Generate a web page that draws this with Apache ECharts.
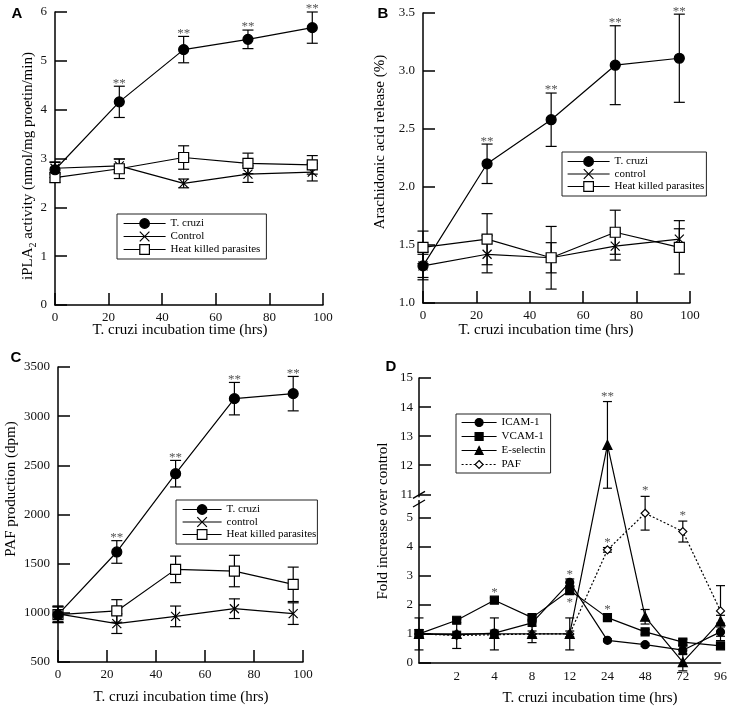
<!DOCTYPE html>
<html><head><meta charset="utf-8">
<script src="https://cdn.jsdelivr.net/npm/echarts@6/dist/echarts.min.js"></script>
<style>html,body{margin:0;padding:0;background:#fff}#c{width:730px;height:706px}</style>
</head><body><div id="c"></div><script>
// ---------- DATA ----------
const timesABC = [0, 24, 48, 72, 96];
// Panel A: iPLA2 activity
const aTcruzi = [2.77, 4.16, 5.23, 5.44, 5.68];
const aTcruziErr = [0.16, 0.32, 0.27, 0.19, 0.32];
const aControl = [2.80, 2.85, 2.49, 2.68, 2.72];
const aControlErr = [0.12, 0.14, 0.09, 0.17, 0.18];
const aHeat = [2.61, 2.79, 3.02, 2.90, 2.87];
const aHeatErr = [0.10, 0.20, 0.24, 0.21, 0.19];
// Panel B: arachidonic acid release
const bTcruzi = [1.32, 2.20, 2.58, 3.05, 3.11];
const bTcruziErr = [0.12, 0.17, 0.23, 0.34, 0.38];
const bControl = [1.32, 1.42, 1.39, 1.49, 1.55];
const bControlErr = [0.10, 0.16, 0.13, 0.12, 0.09];
const bHeat = [1.48, 1.55, 1.39, 1.61, 1.48];
const bHeatErr = [0.14, 0.22, 0.27, 0.19, 0.23];
// Panel C: PAF production
const cTcruzi = [981, 1619, 2415, 3178, 3229];
const cTcruziErr = [80, 115, 135, 165, 175];
const cControl = [990, 890, 964, 1042, 992];
const cControlErr = [80, 100, 105, 100, 110];
const cHeat = [981, 1019, 1442, 1425, 1290];
const cHeatErr = [80, 115, 135, 160, 175];
const starsABC = ['', '**', '**', '**', '**'];
// Panel D: fold increase over control
const dTimes = ['0', '2', '4', '8', '12', '24', '48', '72', '96'];
const dIcam = [1.0, 0.97, 1.03, 1.38, 2.77, 0.78, 0.63, 0.44, 1.07];
const dIcamErr = [0.15, 0.12, 0.10, 0.12, 0.12, 0.05, 0.05, 0.15, 0.30];
const dVcam = [1.0, 1.47, 2.16, 1.56, 2.50, 1.56, 1.07, 0.72, 0.59];
const dVcamErr = [0.15, 0.08, 0.08, 0.10, 0.15, 0.08, 0.08, 0.10, 0.10];
const dEsel = [1.0, 1.0, 1.0, 1.0, 1.0, 12.7, 1.59, 0.03, 1.44];
const dEselErr = [0.55, 0.50, 0.55, 0.30, 0.55, 1.49, 0.25, 0.30, 0.20];
const dPaf = [1.0, 0.95, 0.97, 1.0, 1.0, 3.89, 5.15, 4.52, 1.79];
const dPafErr = [0.10, 0.10, 0.10, 0.10, 0.10, 0.08, 0.58, 0.36, 0.87];
const dStarX = [2, 4, 4, 5, 5, 5, 6, 7];
const dStarY = [2.5, 3.1, 2.15, 1.9, 4.2, 14.43, 6.0, 5.15];
const dStarText = ['*', '*', '*', '*', '*', '**', '*', '*'];
const dYTicks = [0, 1, 2, 3, 4, 5, 11, 12, 13, 14, 15];

// ---------- HELPERS ----------
const SERIF = '"Liberation Serif","Times New Roman",serif';
const SANS = '"Liberation Sans",Arial,sans-serif';
const BREAK_POS = 5.8;               // axis position of value 11 on panel D
const dTf = v => v > 8 ? v - 11 + BREAK_POS : v;
const dInv = v => v > 5.5 ? Math.round(v + 11 - BREAK_POS) : Math.round(v);

const grids = [
  {left: 55, top: 12, width: 268, height: 293},
  {left: 423, top: 13, width: 267, height: 290},
  {left: 58, top: 367, width: 245, height: 295},
  {left: 419, top: 378, width: 302, height: 285}
];

function axisBase(extra) {
  return Object.assign({
    axisLine: {show: true, onZero: false, lineStyle: {color: '#000', width: 1.5}},
    axisTick: {show: true, inside: true, length: 12, lineStyle: {color: '#000', width: 1.5}},
    axisLabel: {color: '#111', fontSize: 13, fontFamily: SERIF, margin: 8},
    splitLine: {show: false}
  }, extra);
}
const xAxes = [0, 1, 2].map(i => axisBase({type: 'value', gridIndex: i, min: 0, max: 100, interval: 20}));
xAxes.forEach(a => { a.axisLabel.margin = 6; a.axisLabel.formatter = v => String(v); });
xAxes.push(axisBase({type: 'category', gridIndex: 3, data: dTimes, boundaryGap: false,
  axisTick: {show: false},
  axisLabel: {color: '#111', fontSize: 13, fontFamily: SERIF, margin: 7, interval: 0,
    formatter: (v, i) => i === 0 ? '' : v}}));

const yAxes = [
  axisBase({type: 'value', gridIndex: 0, min: 0, max: 6, interval: 1}),
  axisBase({type: 'value', gridIndex: 1, min: 1.0, max: 3.5, interval: 0.5}),
  axisBase({type: 'value', gridIndex: 2, min: 500, max: 3500, interval: 500}),
  axisBase({type: 'value', gridIndex: 3, min: 0, max: dTf(15)})
];
yAxes[0].axisLabel.formatter = v => String(v);
yAxes[1].axisLabel.formatter = v => v.toFixed(1);
yAxes[2].axisLabel.formatter = v => String(v);
yAxes[3].axisTick.customValues = dYTicks.map(dTf);
yAxes[3].axisLabel.customValues = dYTicks.map(dTf);
yAxes[3].axisLabel.formatter = v => String(dInv(v));
yAxes[3].axisLabel.margin = 6;

const series = [];
const X_PATH = 'path://M0,0L10,10M10,0L0,10';

function addLine(name, gi, xs, ys, sym, size, fill, lineType, tf) {
  tf = tf || (v => v);
  series.push({
    type: 'line', name, xAxisIndex: gi, yAxisIndex: gi,
    data: xs.map((x, i) => [x, tf(ys[i])]),
    symbol: sym, symbolSize: size, showAllSymbol: true, silent: true, z: 3,
    lineStyle: {color: '#000', width: 1.2, type: lineType || 'solid'},
    itemStyle: {color: fill, borderColor: '#000', borderWidth: 1.2},
    emphasis: {disabled: true}
  });
}
function errRender(hw) {
  return function (params, api) {
    const x = api.value(0);
    const pLo = api.coord([x, api.value(2)]);
    const pHi = api.coord([x, api.value(3)]);
    const st = {stroke: '#000', lineWidth: 1.2};
    return {type: 'group', children: [
      {type: 'line', shape: {x1: pHi[0], y1: pHi[1], x2: pLo[0], y2: pLo[1]}, style: st},
      {type: 'line', shape: {x1: pHi[0] - hw, y1: pHi[1], x2: pHi[0] + hw, y2: pHi[1]}, style: st},
      {type: 'line', shape: {x1: pLo[0] - hw, y1: pLo[1], x2: pLo[0] + hw, y2: pLo[1]}, style: st}
    ]};
  };
}
function addErr(gi, xs, ys, es, hw, tf) {
  tf = tf || (v => v);
  series.push({
    type: 'custom', xAxisIndex: gi, yAxisIndex: gi, silent: true, z: 2,
    renderItem: errRender(hw),
    data: xs.map((x, i) => [x, tf(ys[i]), tf(ys[i] - es[i]), tf(ys[i] + es[i])])
  });
}
function addStars(gi, xs, ys, labels, vAlign, dy, tf) {
  tf = tf || (v => v);
  series.push({
    type: 'custom', xAxisIndex: gi, yAxisIndex: gi, silent: true, z: 4,
    data: xs.map((x, i) => [x, tf(ys[i])]),
    renderItem: (params, api) => {
      const p = api.coord([api.value(0), api.value(1)]);
      return {type: 'text', x: p[0], y: p[1] + dy, style: {
        text: labels[params.dataIndex], textAlign: 'center', textVerticalAlign: vAlign,
        fontSize: 13, fontFamily: SERIF, fill: '#555'}};
    }
  });
}

// Panels A-C
const abc = [
  {t: aTcruzi, te: aTcruziErr, c: aControl, ce: aControlErr, h: aHeat, he: aHeatErr, cn: 'Control'},
  {t: bTcruzi, te: bTcruziErr, c: bControl, ce: bControlErr, h: bHeat, he: bHeatErr, cn: 'control'},
  {t: cTcruzi, te: cTcruziErr, c: cControl, ce: cControlErr, h: cHeat, he: cHeatErr, cn: 'control'}
];
abc.forEach((p, gi) => {
  addErr(gi, timesABC, p.c, p.ce, 5.5);
  addErr(gi, timesABC, p.h, p.he, 5.5);
  addErr(gi, timesABC, p.t, p.te, 5.5);
  addLine(p.cn, gi, timesABC, p.c, X_PATH, 9, '#000');
  addLine('Heat killed parasites', gi, timesABC, p.h, 'rect', 10, '#fff');
  addLine('T. cruzi', gi, timesABC, p.t, 'circle', 10, '#000');
  addStars(gi, timesABC, p.t.map((v, i) => v + p.te[i]), starsABC, 'middle', -3);
});

// Panel D
const dIdx = dTimes.map((t, i) => i);
addErr(3, dIdx, dIcam, dIcamErr, 4.5, dTf);
addErr(3, dIdx, dVcam, dVcamErr, 4.5, dTf);
addErr(3, dIdx, dEsel, dEselErr, 4.5, dTf);
addErr(3, dIdx, dPaf, dPafErr, 4.5, dTf);
addLine('PAF', 3, dIdx, dPaf, 'diamond', 8, '#fff', [2, 2], dTf);
addLine('ICAM-1', 3, dIdx, dIcam, 'circle', 8, '#000', 'solid', dTf);
addLine('VCAM-1', 3, dIdx, dVcam, 'rect', 8, '#000', 'solid', dTf);
addLine('E-selectin', 3, dIdx, dEsel, 'triangle', 9, '#000', 'solid', dTf);
addStars(3, dStarX, dStarY, dStarText, 'middle', 2, dTf);

function legend(left, top, names, iw, ih, gap, pad) {
  return {
    left, top, orient: 'vertical', data: names, selectedMode: false,
    itemWidth: iw, itemHeight: ih, itemGap: gap, padding: pad,
    borderColor: '#222', borderWidth: 1, backgroundColor: '#fff',
    lineStyle: {width: 1.2},
    itemStyle: {borderWidth: 1.2},
    textStyle: {color: '#000', fontSize: 11, fontFamily: SERIF}
  };
}

function txt(x, y, text, font, rot, extra) {
  return {type: 'text', x, y, rotation: rot || 0, silent: true, style: Object.assign({
    text, textAlign: 'center', textVerticalAlign: 'middle', font, fill: '#000'}, extra || {})};
}
const titleFont = '15px ' + SERIF;
const panelFont = 'bold 15px ' + SANS;
const graphics = [
  txt(17, 14, 'A', panelFont), txt(383, 14, 'B', panelFont),
  txt(16, 358, 'C', panelFont), txt(391, 367, 'D', panelFont),
  txt(180, 330, 'T. cruzi incubation time (hrs)', titleFont),
  txt(546, 330, 'T. cruzi incubation time (hrs)', titleFont),
  txt(181, 697, 'T. cruzi incubation time (hrs)', titleFont),
  txt(590, 698, 'T. cruzi incubation time (hrs)', titleFont),
  {type: 'text', x: 28, y: 166, rotation: Math.PI / 2, silent: true, style: {
    text: '{n|iPLA}{s|2}{n| activity (nmol/mg proetin/min)}', textAlign: 'center', textVerticalAlign: 'middle',
    rich: {n: {fontSize: 15, fontFamily: SERIF, lineHeight: 20, fill: '#000'},
           s: {fontSize: 10, fontFamily: SERIF, lineHeight: 10, verticalAlign: 'bottom', fill: '#000'}}}},
  txt(380, 142, 'Arachidonic acid release (%)', titleFont, Math.PI / 2),
  txt(11, 489, 'PAF production (dpm)', titleFont, Math.PI / 2),
  txt(383, 521, 'Fold increase over control', titleFont, Math.PI / 2)
];

const option = {
  animation: false,
  backgroundColor: '#fff',
  textStyle: {fontFamily: SERIF},
  grid: grids,
  xAxis: xAxes,
  yAxis: yAxes,
  legend: [
    legend(117, 214, ['T. cruzi', 'Control', 'Heat killed parasites'], 42, 12, 2, [4, 6, 4, 6]),
    legend(562, 152, ['T. cruzi', 'control', 'Heat killed parasites'], 42, 12, 1.5, [4, 2, 4, 5]),
    legend(176, 500, ['T. cruzi', 'control', 'Heat killed parasites'], 39, 12, 1.5, [4, 1, 4, 6]),
    legend(456, 414, ['ICAM-1', 'VCAM-1', 'E-selectin', 'PAF'], 35, 10, 3, [3, 5, 3, 5])
  ],
  series,
  graphic: graphics
};

const chart = echarts.init(document.getElementById('c'));
chart.setOption(option);

// axis-break marks on panel D's y axis
const pHi = chart.convertToPixel({gridIndex: 3}, [0, BREAK_POS]);
const pLo = chart.convertToPixel({gridIndex: 3}, [0, BREAK_POS - 0.3]);
const ax = pHi[0];
const brk = [
  {type: 'rect', shape: {x: ax - 2, y: pHi[1] + 3, width: 4, height: pLo[1] - pHi[1] - 6}, style: {fill: '#fff'}, silent: true, z: 50},
  {type: 'line', shape: {x1: ax - 6, y1: pHi[1] + 4, x2: ax + 6, y2: pHi[1] - 3}, style: {stroke: '#000', lineWidth: 1.3}, silent: true, z: 51},
  {type: 'line', shape: {x1: ax - 6, y1: pLo[1] + 4, x2: ax + 6, y2: pLo[1] - 3}, style: {stroke: '#000', lineWidth: 1.3}, silent: true, z: 51}
];
chart.setOption({graphic: graphics.concat(brk)});
</script></body></html>
